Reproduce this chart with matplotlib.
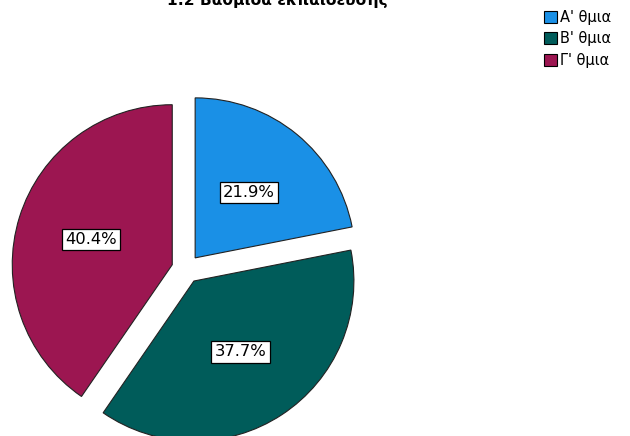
import matplotlib
matplotlib.use("Agg")
import matplotlib.pyplot as plt
from matplotlib.patches import Patch

title = "1.2 Βαθμίδα εκπαίδευσης"
categories = ["Α' θμια", "Β' θμια", "Γ' θμια"]
values = [21.9, 37.7, 40.4]
colors = ["#1a90e6", "#005c5a", "#9c1651"]

W, H = 630, 436
fig = plt.figure(figsize=(W / 100, H / 100), dpi=100)

cx, cy, r = 186, 269, 160
lim = 1.3
size = 2 * lim * r
ax = fig.add_axes([(cx - size / 2) / W, (H - cy - size / 2) / H, size / W, size / H])

wedges, texts, autotexts = ax.pie(
    values, colors=colors, startangle=90, counterclock=False,
    explode=[0.09] * len(values), autopct="%.1f%%", pctdistance=0.53,
    wedgeprops=dict(edgecolor="#222222", linewidth=0.8),
    textprops=dict(fontsize=11.8, color="black"),
)
for t in autotexts:
    t.set_bbox(dict(facecolor="white", edgecolor="black", linewidth=0.9, pad=0.2, boxstyle="square"))
ax.set_xlim(-lim, lim)
ax.set_ylim(-lim, lim)
ax.set_aspect("equal")
ax.axis("off")

fig.text(277 / W, 1 - 0 / H, title, ha="center", va="center", fontsize=11.2, fontweight="bold")

handles = [Patch(facecolor=c, edgecolor="black", linewidth=0.8) for c in colors]
fig.legend(handles, categories, loc="upper left", bbox_to_anchor=(538 / W, 1 - 4 / H),
           frameon=False, fontsize=10.5, handlelength=0.9, handleheight=0.9,
           handletextpad=0.2, labelspacing=0.45, borderaxespad=0)

fig.savefig("out.png", dpi=100)
